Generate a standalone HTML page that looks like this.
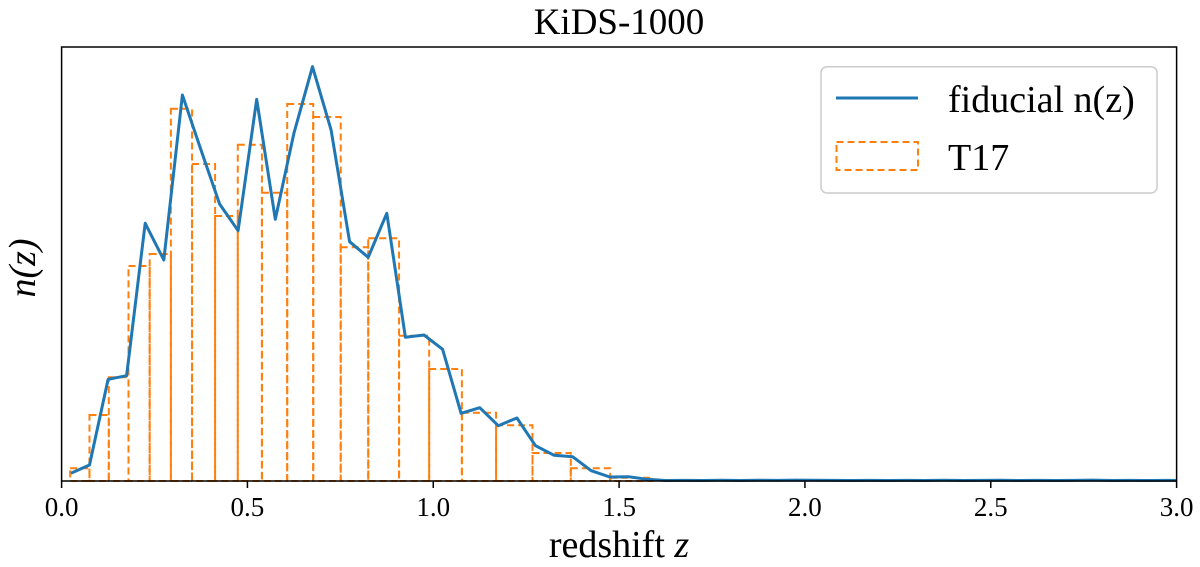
<!DOCTYPE html>
<html><head><meta charset="utf-8"><style>
body{margin:0;background:#fff;width:1200px;height:567px;overflow:hidden}
svg{display:block;font-family:"Liberation Serif",serif}
</style></head><body>
<svg id="chart" width="1200" height="567" viewBox="0 0 1200 567">
<text x="619" y="34" font-size="37" text-anchor="middle">KiDS-1000</text>
<g id="bars"></g>
<path id="line" fill="none" stroke="#1f77b4" stroke-width="3" stroke-linejoin="round"/>
<rect x="61.6" y="47" width="1115" height="434" fill="none" stroke="#000" stroke-width="1.5"/>
<g id="ticks"></g>
<text x="619" y="557" font-size="38" text-anchor="middle">redshift <tspan font-style="italic">z</tspan></text>
<text transform="translate(35,268) rotate(-90)" font-size="38" text-anchor="middle" font-style="italic">n(z)</text>
<g>
<rect x="821" y="66.7" width="336" height="126.3" rx="6" fill="#fff" fill-opacity="0.8" stroke="#ccc" stroke-width="1.5"/>
<line x1="836" y1="98" x2="918" y2="98" stroke="#1f77b4" stroke-width="3"/>
<text x="948" y="112" font-size="38">fiducial n(z)</text>
<rect x="836.5" y="142" width="81.5" height="28" fill="none" stroke="#ff7f0e" stroke-width="2" stroke-dasharray="7,4"/>
<text x="948" y="170" font-size="38">T17</text>
</g>
</svg>
<script>
const binEdges=[0.023,0.075,0.127,0.18,0.237,0.294,0.351,0.413,0.474,0.539,0.607,0.677,0.751,0.825,0.908,0.989,1.077,1.169,1.267,1.37,1.476,1.59];
const binHeights=[12.7,66,103.7,215,227,372.3,317,265,336.3,288.3,377,364,233.7,242.7,145.3,112,68.3,55.7,28,12.7,3.3];
const lineZ=[];for(let i=0;i<60;i++)lineZ.push(0.025+0.05*i);lineZ.push(3.0);
const lineVals=[7.7,16,101.7,105.3,257.7,221,386,331,277,250.3,381.7,261.7,347.7,414.3,351,239.3,223.7,267.7,143.7,146,131.7,67.7,73.3,55.3,63,35.3,25.7,24.3,10.3,4,4.3,1.7,
0.5,0.6,0.5,0.7,0.5,0.8,0.6,0.9,0.7,0.6,0.5,0.6,0.5,0.6,0.5,0.7,0.5,0.6,0.8,0.5,0.6,0.5,0.6,0.9,0.5,0.6,0.5,0.6,0.5];
const xTicks=[0,0.5,1.0,1.5,2.0,2.5,3.0];
const xTickLabels=["0.0","0.5","1.0","1.5","2.0","2.5","3.0"];
const NS="http://www.w3.org/2000/svg";
const X=z=>61.6+z/3*1115;
const Y=v=>481-v;
const bars=document.getElementById('bars');
for(let i=0;i<binHeights.length;i++){
 const r=document.createElementNS(NS,'rect');
 
 
 const x0=X(binEdges[i]),x1=X(binEdges[i+1]);
 r.setAttribute('x',x0);r.setAttribute('width',x1-x0);
 r.setAttribute('y',Y(binHeights[i]));r.setAttribute('height',binHeights[i]);
 r.setAttribute('fill','none');r.setAttribute('stroke','#ff7f0e');r.setAttribute('stroke-width','2');r.setAttribute('stroke-dasharray','7,4');
 bars.appendChild(r);
}
document.getElementById('line').setAttribute('d',lineZ.map((z,i)=>(i?'L':'M')+X(z).toFixed(1)+','+Y(lineVals[i]).toFixed(1)).join(''));
const tg=document.getElementById('ticks');
xTicks.forEach((t,i)=>{
 const l=document.createElementNS(NS,'line');
 
 
 l.setAttribute('x1',X(t));l.setAttribute('x2',X(t));l.setAttribute('y1',481);l.setAttribute('y2',488);l.setAttribute('stroke','#000');l.setAttribute('stroke-width','1.5');
 tg.appendChild(l);
 const tx=document.createElementNS(NS,'text');
 
 
 tx.setAttribute('x',X(t));tx.setAttribute('y',516);tx.setAttribute('font-size','27');tx.setAttribute('text-anchor','middle');
 tx.textContent=xTickLabels[i];tg.appendChild(tx);
});
</script>
</body></html>
